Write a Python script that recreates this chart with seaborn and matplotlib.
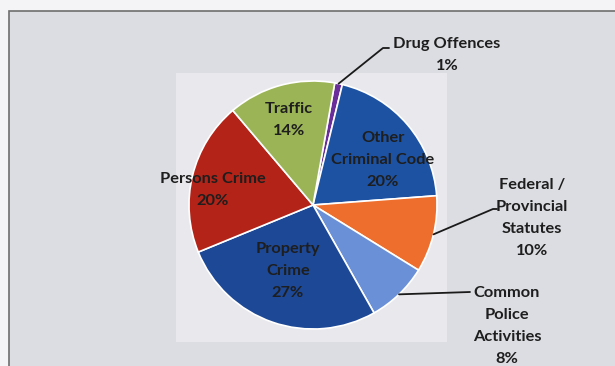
import numpy as np
import matplotlib
matplotlib.use("Agg")
import matplotlib.pyplot as plt
import matplotlib.patches as mpatches
import seaborn as sns

# slices, clockwise from just right of 12 o'clock
categories = ["Drug Offences", "Other Criminal Code", "Federal / Provincial Statutes",
              "Common Police Activities", "Property Crime", "Persons Crime", "Traffic"]
values = [1, 20, 10, 8, 27, 20, 14]
label_text = ["Drug Offences", "Other\nCriminal Code", "Federal /\nProvincial\nStatutes",
              "Common\nPolice\nActivities", "Property\nCrime", "Persons Crime", "Traffic"]

colors = sns.color_palette(["#6a2e9a", "#1d52a2", "#ee6f2d", "#6a90d8",
                            "#1c4896", "#b32317", "#9bb455"])

sns.set_theme(style="white")
plt.rcParams["font.family"] = ["Lato", "DejaVu Sans"]

W, H = 615, 366
fig = plt.figure(figsize=(W / 100, H / 100), dpi=100)
fig.patch.set_facecolor("#f4f4f6")
ax = fig.add_axes([0, 0, 1, 1])

def Y(y):
    return H - y

cx, cy, R = 313, Y(205), 124

wedges, _ = ax.pie(values, colors=colors, startangle=79.9, counterclock=False,
                   center=(cx, cy), radius=R,
                   wedgeprops=dict(edgecolor="white", linewidth=1.2, zorder=3))
ax.set_xlim(0, W)
ax.set_ylim(0, H)
ax.set_aspect("auto")
ax.axis("off")

# chart frame and plot area
ax.add_patch(mpatches.Rectangle((9, -5), W, Y(11) + 5, facecolor="#dcdde2",
                                edgecolor="#6e6e6e", linewidth=1.2, zorder=0))
ax.add_patch(mpatches.Rectangle((176, Y(342)), 271, 269, facecolor="#e9e9ed",
                                edgecolor="none", zorder=1))

def edge_point(w, r=1.0):
    a = np.deg2rad((w.theta1 + w.theta2) / 2)
    return cx + R * r * np.cos(a), cy + R * r * np.sin(a)

fs = 11.8
txt = dict(fontsize=fs, fontweight="bold", color="#1e1e1e", ha="center",
           va="center", linespacing=1.75, zorder=5)

# outside labels with leader lines
outside = {0: ((447, 55), [(383, 48), (389, 48)]),
           2: ((532, 218), [(493, 209), (497, 209)]),
           3: ((507, 326), [(470, 292)])}
for i, (pos, pts) in outside.items():
    x0, y0 = edge_point(wedges[i])
    xs = [x0] + [p[0] for p in pts]
    ys = [y0] + [Y(p[1]) for p in pts]
    ax.plot(xs, ys, color="#1a1a1a", lw=1.3, zorder=4)
    ax.text(pos[0], Y(pos[1]), f"{label_text[i]}\n{values[i]}%", **txt)

# inside labels
inside = {1: (383, 160), 4: (288, 271), 5: (213, 190), 6: (289, 120)}
for i, pos in inside.items():
    ax.text(pos[0], Y(pos[1]), f"{label_text[i]}\n{values[i]}%", **txt)

fig.savefig("out.png", dpi=100)
